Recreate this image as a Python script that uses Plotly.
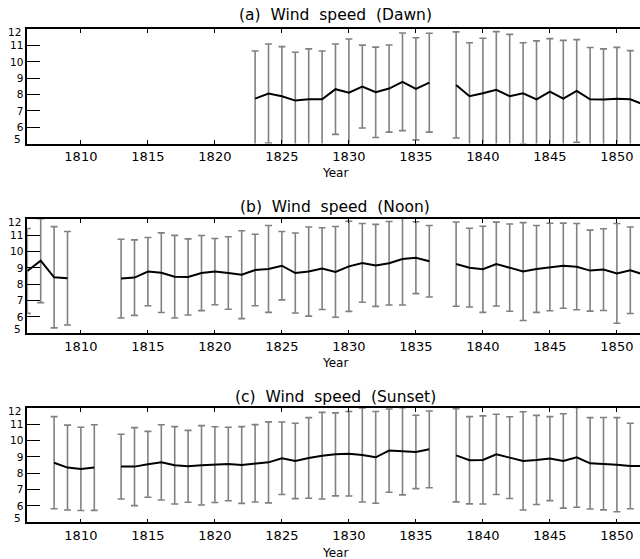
import plotly.graph_objects as go

# Annual wind speed statistics, 1806-1852 (None = no observations that year)
years = list(range(1806, 1853))

dawn_mean = [None] * 17 + [
    7.75, 8.06, 7.90, 7.63, 7.71, 7.71, 8.33, 8.12, 8.49, 8.14, 8.37, 8.78, 8.35, 8.73,
    None,
    8.59, 7.90, 8.08, 8.29, 7.90, 8.08, 7.71, 8.18, 7.75, 8.22, 7.71, 7.69, 7.75, 7.71, 7.39,
]
dawn_std = [None] * 17 + [
    2.92, 3.04, 3.04, 2.96, 3.09, 2.96, 2.77, 3.29, 2.54, 2.77, 2.67, 2.99, 3.13, 3.03,
    None,
    3.25, 3.28, 3.37, 3.57, 3.79, 3.10, 3.58, 3.25, 3.57, 3.15, 3.17, 3.11, 3.14, 2.98, 3.00,
]

noon_mean = [
    8.82, 9.45, 8.43, 8.37, None, None, None,
    8.35, 8.41, 8.78, 8.71, 8.47, 8.45, 8.69, 8.78, 8.69, 8.59, 8.88, 8.94, 9.14, 8.69,
    8.78, 8.96, 8.76, 9.10, 9.31, 9.16, 9.29, 9.55, 9.63, 9.41,
    None,
    9.24, 9.02, 8.92, 9.24, 9.02, 8.78, 8.94, 9.06, 9.14, 9.08, 8.84, 8.90, 8.67, 8.86, 8.60,
]
noon_std = [
    2.60, 2.57, 3.10, 2.86, None, None, None,
    2.41, 2.31, 2.09, 2.44, 2.53, 2.33, 2.30, 2.03, 2.22, 2.69, 2.19, 2.66, 2.09, 2.45,
    2.73, 2.50, 2.78, 2.76, 2.41, 2.51, 2.56, 2.82, 2.20, 2.19,
    None,
    2.58, 2.41, 2.64, 2.57, 2.67, 3.00, 2.66, 2.68, 2.61, 2.64, 2.48, 2.50, 3.05, 2.65, 2.60,
]

sunset_mean = [
    None, None, 8.65, 8.35, 8.27, 8.35, None,
    8.41, 8.41, 8.55, 8.67, 8.49, 8.43, 8.49, 8.53, 8.57, 8.51, 8.61, 8.67, 8.92, 8.76,
    8.94, 9.08, 9.16, 9.20, 9.12, 8.98, 9.39, 9.35, 9.31, 9.47,
    None,
    9.10, 8.80, 8.82, 9.16, 8.96, 8.76, 8.82, 8.90, 8.76, 8.98, 8.61, 8.59, 8.53, 8.45, 8.45,
]
sunset_std = [
    None, None, 2.82, 2.60, 2.55, 2.62, None,
    1.98, 2.39, 2.02, 2.30, 2.37, 2.20, 2.43, 2.32, 2.25, 2.35, 2.37, 2.48, 2.22, 2.31,
    2.47, 2.65, 2.54, 2.59, 2.88, 2.81, 2.55, 2.67, 2.25, 2.35,
    None,
    2.85, 2.67, 2.70, 2.46, 2.50, 3.01, 2.73, 2.57, 2.89, 3.06, 2.80, 2.83, 2.88, 2.62, 2.60,
]

NB = "\u00a0"
panel_titles = [
    f"(a){NB} Wind{NB} speed{NB} (Dawn)",
    f"(b){NB} Wind{NB} speed{NB} (Noon)",
    f"(c){NB} Wind{NB} speed{NB} (Sunset)",
]
x_ticks = [1810, 1815, 1820, 1825, 1830, 1835, 1840, 1845, 1850]
y_ticks = [5, 6, 7, 8, 9, 10, 11, 12]

W, H = 640, 559
FONT = "DejaVu Sans"
x_left = 27.3
# panel (top, bottom) in pixels
panels = [(29.3, 143.5), (219.0, 333.3), (408.0, 522.3)]
title_y = [15.0, 207.3, 396.7]
year_y = [173.0, 363.0, 553.0]
center_x = 335.0

series = [(dawn_mean, dawn_std), (noon_mean, noon_std), (sunset_mean, sunset_std)]

fig = go.Figure()
layout = dict(
    width=W, height=H,
    margin=dict(l=0, r=0, t=0, b=0),
    paper_bgcolor="white", plot_bgcolor="white",
    showlegend=False,
    font=dict(family=FONT, color="black"),
    annotations=[],
)

tickfont_y = dict(family=FONT, size=10.5, color="black")

for i, ((mean, std), (top, bot)) in enumerate(zip(series, panels)):
    sfx = "" if i == 0 else str(i + 1)
    rsfx = str(i + 4)
    fig.add_trace(go.Scatter(
        x=years, y=mean,
        mode="lines",
        line=dict(color="black", width=2),
        error_y=dict(type="data", array=std, symmetric=True,
                     color="rgb(128,128,128)", thickness=1.6, width=3.5),
        xaxis="x" + sfx, yaxis="y" + sfx,
        connectgaps=False,
    ))
    ydom = [1 - bot / H, 1 - top / H]
    layout["xaxis" + sfx] = dict(
        domain=[x_left / W, 1.0],
        range=[1806, 1806 + (W - x_left) / 13.4],
        anchor="y" + sfx,
        tickvals=x_ticks, ticks="inside", ticklen=4, tickwidth=1.2, tickcolor="black",
        showline=True, linecolor="black", linewidth=1.5, mirror="ticks",
        showgrid=False, zeroline=False,
        tickfont=dict(family=FONT, size=13, color="black"),
    )
    # left axis: interior tick labels; end labels placed just inside the frame
    layout["yaxis" + sfx] = dict(
        domain=ydom,
        range=[5, 12],
        anchor="x" + sfx,
        tickvals=y_ticks, ticktext=[""] + [str(v) for v in y_ticks[1:-1]] + [""],
        ticks="inside", ticklen=13, tickwidth=1.2, tickcolor="black",
        showline=True, linecolor="black", linewidth=1.5, mirror=False,
        showgrid=False, zeroline=False,
        tickfont=tickfont_y,
    )
    # right side: tick marks only
    layout["yaxis" + rsfx] = dict(
        domain=ydom,
        range=[5, 12],
        anchor="x" + sfx, overlaying="y" + sfx, side="right",
        tickvals=y_ticks, ticks="inside", ticklen=10, tickwidth=1.2, tickcolor="black",
        showticklabels=False, showline=False,
        showgrid=False, zeroline=False,
    )
    for label, ypix in ((str(y_ticks[-1]), top + 3.0), (str(y_ticks[0]), bot - 4.2)):
        layout["annotations"].append(dict(
            text=label, x=(x_left - 4.5) / W, y=1 - ypix / H,
            xref="paper", yref="paper", xanchor="right", yanchor="middle",
            showarrow=False, font=tickfont_y,
        ))
    layout["annotations"].append(dict(
        text=panel_titles[i], x=center_x / W, y=1 - title_y[i] / H,
        xref="paper", yref="paper", xanchor="center", yanchor="middle",
        showarrow=False, font=dict(family=FONT, size=15.5, color="black"),
    ))
    layout["annotations"].append(dict(
        text="Year", x=center_x / W, y=1 - year_y[i] / H,
        xref="paper", yref="paper", xanchor="center", yanchor="middle",
        showarrow=False, font=dict(family=FONT, size=12, color="black"),
    ))

fig.update_layout(**layout)
fig.write_html("out.html")
